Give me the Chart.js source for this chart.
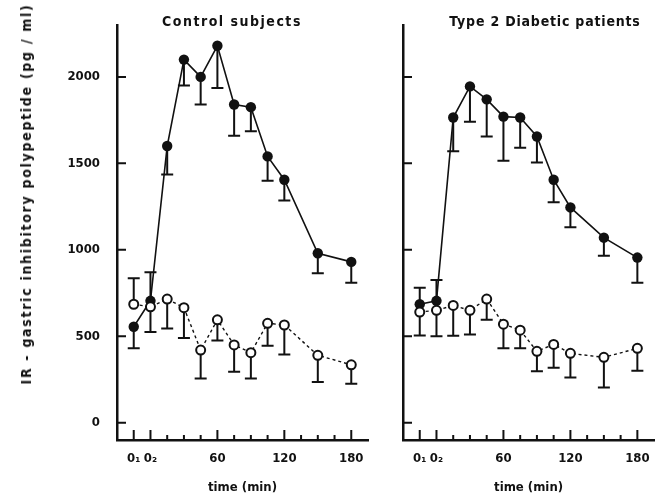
<!DOCTYPE html>
<html lang="en">
<head>
<meta charset="UTF-8">
<title>IR-GIP in control subjects and type 2 diabetic patients</title>
<script src="https://cdn.jsdelivr.net/npm/chart.js@4.4.0/dist/chart.umd.min.js"></script>
<style>
  body { margin: 0; background: #fff; }
  #wrap { position: relative; width: 661px; height: 500px; color: #111;
          font-family: "DejaVu Sans Condensed", "DejaVu Sans", sans-serif; font-weight: bold; }
  .panel { position: absolute; top: 0; height: 500px; }
  .txt { position: absolute; white-space: nowrap; transform: translate(-50%, -50%); }
  .title { font-size: 14px; letter-spacing: 1.5px; top: 21px; }
  #ylab { left: 26px; top: 194px; font-size: 14px; letter-spacing: 1.7px;
          transform: translate(-50%, -50%) rotate(-90deg); }
</style>
</head>
<body>
<div id="wrap">
  <div class="panel" style="left:0; width:380px;"><canvas id="ctrl"></canvas></div>
  <div class="panel" style="left:380px; width:281px;"><canvas id="diab"></canvas></div>
  <div class="txt title" style="left:232px;">Control subjects</div>
  <div class="txt title" style="left:545px; letter-spacing:0.8px;">Type 2 Diabetic patients</div>
  <div class="txt" id="ylab">IR - gastric inhibitory polypeptide (pg / ml)</div>
</div>
<script>
// sampling times (min); -15 and 0 are the two basal samples 0₁, 0₂
const times = [-15, 0, 15, 30, 45, 60, 75, 90, 105, 120, 150, 180];

// control subjects: filled = solid line, open = dashed line; errors are signed (up +, down -)
const ctrlFilled    = [555, 705, 1600, 2100, 2000, 2180, 1840, 1825, 1540, 1405, 980, 930];
const ctrlFilledErr = [-125, 165, -165, -150, -160, -245, -180, -140, -140, -120, -115, -120];
const ctrlOpen      = [685, 670, 715, 665, 420, 595, 450, 405, 575, 565, 390, 335];
const ctrlOpenErr   = [150, -145, -170, -175, -165, -120, -155, -150, -130, -170, -155, -110];

// type 2 diabetic patients
const diabFilled    = [685, 705, 1765, 1945, 1870, 1770, 1765, 1655, 1405, 1245, 1070, 955];
const diabFilledErr = [95, 120, -195, -205, -215, -255, -175, -150, -130, -115, -105, -145];
const diabOpen      = [640, 650, 678, 650, 715, 570, 535, 413, 453, 401, 378, 430];
const diabOpenErr   = [-135, -150, -175, -140, -120, -140, -105, -115, -135, -140, -175, -130];

const xTickValues = [-15, 0, 15, 30, 45, 60, 75, 90, 105, 120, 135, 150, 165, 180];
const xTickLabels = ['0\u2081', '0\u2082', '', '', '', '60', '', '', '', '120', '', '', '', '180'];
const yTickValues = [0, 500, 1000, 1500, 2000];
const yTickLabels = ['0', '500', '1000', '1500', '2000'];

const INK = '#111';
const FONT = { family: '"DejaVu Sans Condensed", "DejaVu Sans", sans-serif', size: 13, weight: 'bold' };

// vertical error bars with a cap, drawn under the points
const errorBars = {
  id: 'errorBars',
  beforeDatasetsDraw(chart) {
    const { ctx, scales: { x, y } } = chart;
    ctx.save();
    ctx.strokeStyle = INK;
    ctx.lineWidth = 2;
    chart.data.datasets.forEach(ds => {
      ds.data.forEach((p, i) => {
        const px = x.getPixelForValue(p.x);
        const y0 = y.getPixelForValue(p.y);
        const y1 = y.getPixelForValue(p.y + ds.errors[i]);
        ctx.beginPath();
        ctx.moveTo(px, y0); ctx.lineTo(px, y1);
        ctx.moveTo(px - 6, y1); ctx.lineTo(px + 6, y1);
        ctx.stroke();
      });
    });
    ctx.restore();
  }
};

// inward tick marks (long ones at labelled x ticks)
const tickMarks = {
  id: 'tickMarks',
  afterDraw(chart) {
    const { ctx, chartArea: a, scales: { x, y } } = chart;
    ctx.save();
    ctx.strokeStyle = INK;
    ctx.lineWidth = 2;
    ctx.beginPath();
    yTickValues.forEach(v => {
      const py = y.getPixelForValue(v);
      ctx.moveTo(a.left, py); ctx.lineTo(a.left + 9, py);
    });
    xTickValues.forEach((v, i) => {
      const px = x.getPixelForValue(v);
      ctx.moveTo(px, a.bottom); ctx.lineTo(px, a.bottom - (xTickLabels[i] ? 10 : 5));
    });
    ctx.stroke();
    ctx.restore();
  }
};

function toPoints(vals) {
  return vals.map((v, i) => ({ x: times[i], y: v }));
}

function makePanel(id, filled, filledErr, open, openErr, showYLabels, yWidth, padRight) {
  new Chart(document.getElementById(id), {
    type: 'line',
    data: {
      datasets: [
        {
          data: toPoints(open), errors: openErr,
          borderColor: INK, borderWidth: 1.4, borderDash: [3, 3],
          pointRadius: 4.5, pointBackgroundColor: '#fff', pointBorderColor: INK, pointBorderWidth: 2
        },
        {
          data: toPoints(filled), errors: filledErr,
          borderColor: INK, borderWidth: 1.6,
          pointRadius: 5.2, pointBackgroundColor: INK, pointBorderColor: INK, pointBorderWidth: 0
        }
      ]
    },
    options: {
      responsive: true,
      maintainAspectRatio: false,
      animation: false,
      layout: { padding: { left: 0, right: padRight, top: 25, bottom: 0 } },
      plugins: { legend: { display: false }, tooltip: { enabled: false } },
      scales: {
        x: {
          type: 'linear', min: -30, max: 195,
          afterBuildTicks: s => { s.ticks = xTickValues.map(v => ({ value: v })); },
          afterFit: s => { s.height = 60; },
          grid: { drawOnChartArea: false, drawTicks: false },
          border: { color: INK, width: 2.5 },
          ticks: {
            autoSkip: false, maxRotation: 0, minRotation: 0, padding: 11, color: INK, font: FONT,
            callback: v => xTickLabels[xTickValues.indexOf(v)]
          },
          title: { display: true, text: 'time (min)', color: INK, font: FONT, padding: { top: 0, bottom: 5 } }
        },
        y: {
          type: 'linear', min: -100, max: 2300,
          afterBuildTicks: s => { s.ticks = yTickValues.map(v => ({ value: v })); },
          afterFit: s => { s.width = yWidth; },
          grid: { drawOnChartArea: false, drawTicks: false },
          border: { color: INK, width: 2.5 },
          ticks: {
            display: showYLabels, padding: 17, color: INK, font: FONT,
            callback: v => yTickLabels[yTickValues.indexOf(v)]
          }
        }
      }
    },
    plugins: [errorBars, tickMarks]
  });
}

makePanel('ctrl', ctrlFilled, ctrlFilledErr, ctrlOpen, ctrlOpenErr, true, 117, 12);
makePanel('diab', diabFilled, diabFilledErr, diabOpen, diabOpenErr, false, 23, 6);
</script>
</body>
</html>
